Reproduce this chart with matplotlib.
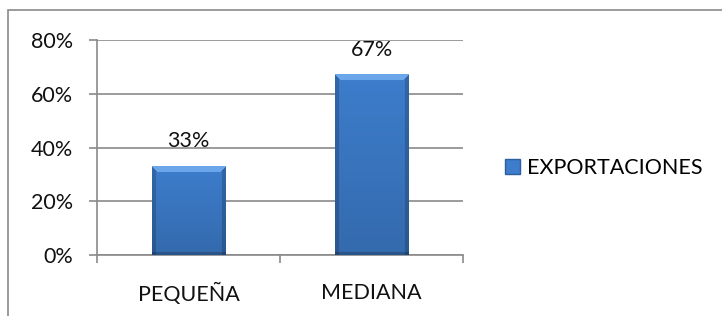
import numpy as np
import matplotlib
matplotlib.use("Agg")
import matplotlib.pyplot as plt
from matplotlib.patches import Rectangle

categories = ["PEQUEÑA", "MEDIANA"]
values = [33, 67]
labels = ["33%", "67%"]
series_name = "EXPORTACIONES"
y_ticks = [0, 20, 40, 60, 80]

plt.rcParams['font.family'] = ['Lato', 'DejaVu Sans']
FS = 15.5

fig = plt.figure(figsize=(7.22, 3.16), dpi=100)
ax = fig.add_axes([97 / 722, 1 - 255 / 316, (463 - 97) / 722, (255 - 40) / 316])

# outer chart border
fig.patches.append(Rectangle((8 / 722, -0.1), 1.2, 1 - 10 / 316 + 0.1,
                             transform=fig.transFigure, fill=False,
                             edgecolor='#8a8a8a', linewidth=1.2))

ax.set_xlim(-0.5, 1.5)
ax.set_ylim(0, 80)

x = np.arange(len(categories))
bars = ax.bar(x, values, width=0.4, color='#3d7dcb', edgecolor='none',
              linewidth=0, zorder=3)


def bevel_image(w, h, bev=6, side=4):
    """RGB array mimicking the office-style bevelled bar."""
    base = np.array([0.24, 0.49, 0.80])
    img = np.ones((h, w, 3)) * base
    rows = np.arange(h)[:, None]
    cols = np.arange(w)[None, :]
    vert = 1.0 - 0.15 * rows / max(h - 1, 1)
    img *= vert[..., None]
    dist = np.minimum(cols, w - 1 - cols)
    edge = dist < side
    img[np.broadcast_to(edge, (h, w))] *= 0.82
    top = (rows < bev) & (dist >= rows)
    light = np.array([0.42, 0.65, 0.92])
    img[np.broadcast_to(top, (h, w))] = light
    botm = rows >= h - 3
    img[np.broadcast_to(botm, (h, w))] *= 0.8
    return np.clip(img, 0, 1)


for b in bars:
    x0, w, h = b.get_x(), b.get_width(), b.get_height()
    p0 = ax.transData.transform((x0, 0))
    p1 = ax.transData.transform((x0 + w, h))
    wp, hp = int(round(p1[0] - p0[0])), int(round(p1[1] - p0[1]))
    ax.imshow(bevel_image(wp, hp), aspect='auto', interpolation='bilinear',
              extent=[x0, x0 + w, 0, h], zorder=3.5)

for xi, v, lab in zip(x, values, labels):
    ax.annotate(lab, (xi, v), xytext=(0, 11), textcoords='offset points',
                ha='center', va='bottom', fontsize=FS, color='#111111')

ax.set_xlim(-0.5, 1.5)
ax.set_ylim(0, 80)
ax.set_yticks(y_ticks)
ax.set_yticklabels([f"{t}%" for t in y_ticks])
ax.set_xticks(x)
ax.set_xticklabels(categories)
ax.set_xticks([-0.5, 0.5, 1.5], minor=True)
ax.tick_params(axis='x', which='major', length=0, pad=20, labelsize=FS,
               colors='#111111')
ax.tick_params(axis='x', which='minor', length=6, width=1.2, color='#8a8a8a')
ax.tick_params(axis='y', length=6, width=1.2, color='#8a8a8a', pad=11,
               labelsize=FS, labelcolor='#111111')

ax.yaxis.grid(True, color='#8a8a8a', linewidth=1.2, zorder=0)
ax.set_axisbelow(True)
for s in ['top', 'right']:
    ax.spines[s].set_visible(False)
for s in ['left', 'bottom']:
    ax.spines[s].set_color('#8a8a8a')
    ax.spines[s].set_linewidth(1.2)

leg = fig.legend([Rectangle((0, 0), 1, 1, color='#3d7dcb', ec='#2d5e9e')],
                 [series_name], loc='center left',
                 bbox_to_anchor=(486 / 722, 1 - 168 / 316), frameon=False,
                 fontsize=FS, handlelength=0.7, handleheight=0.7,
                 handletextpad=0.3)

fig.savefig("out.png", dpi=100)
